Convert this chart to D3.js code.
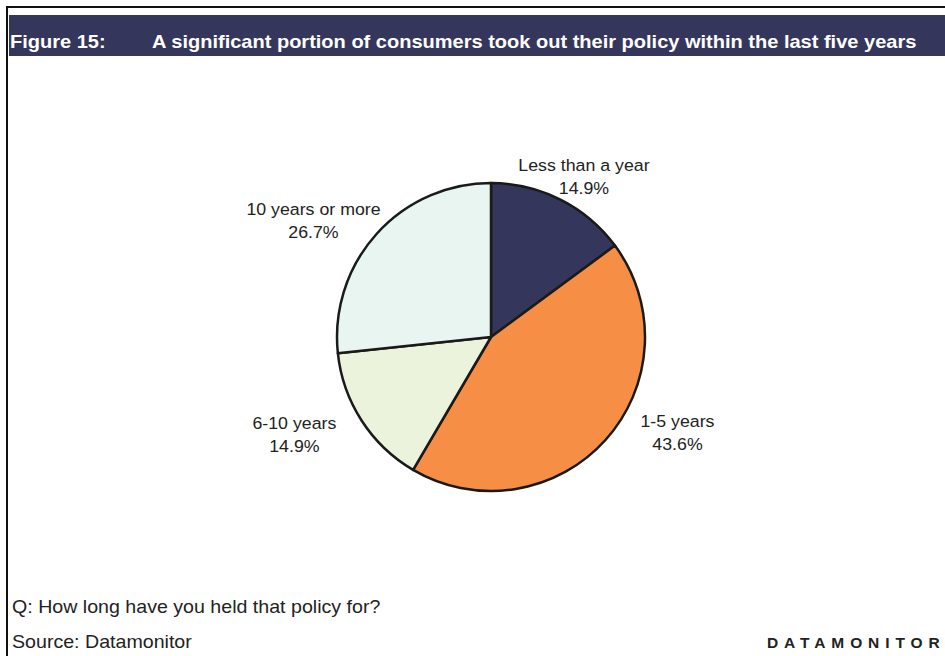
<!DOCTYPE html>
<html>
<head>
<meta charset="utf-8">
<script src="https://cdn.jsdelivr.net/npm/d3@7"></script>
<style>
  html, body { margin: 0; padding: 0; background: #fff; }
  svg { display: block; }
  text { font-family: "Liberation Sans", Arial, Helvetica, sans-serif; }
</style>
</head>
<body>
<svg id="chart" width="945" height="656"></svg>
<script>
// Survey answers: how long the respondent has held the policy
const categories = ["Less than a year", "1-5 years", "6-10 years", "10 years or more"];
const shares = [14.9, 43.6, 14.9, 26.7];
const sliceColors = ["#35365b", "#f68e45", "#ebf3dd", "#e8f5f1"];
// small label shifts away from the plain label arc, per slice
const labelNudge = [[9, 5], [48, -30], [-40, -4], [-39, 8]];

const figureNo = "Figure 15:";
const title = "A significant portion of consumers took out their policy within the last five years";
const question = "Q: How long have you held that policy for?";
const source = "Source: Datamonitor";
const brand = "DATAMONITOR";

const W = 945, H = 656;
const svg = d3.select("#chart");

// text drawn with a slightly wide face
function wideText(parent, x, y, sx, str) {
  return parent.append("text")
    .attr("transform", `translate(${x},${y}) scale(${sx},1)`)
    .text(str);
}

// frame: top and left rules
svg.append("line").attr("x1", 6).attr("x2", W).attr("y1", 7).attr("y2", 7)
  .attr("stroke", "#111").attr("stroke-width", 2);
svg.append("line").attr("x1", 7).attr("x2", 7).attr("y1", 6).attr("y2", H)
  .attr("stroke", "#111").attr("stroke-width", 2);

// title band
svg.append("rect").attr("x", 9).attr("y", 15).attr("width", W - 9).attr("height", 41)
  .attr("fill", "#35365b");
wideText(svg, 10, 48, 1.1, figureNo)
  .attr("fill", "#fff").attr("font-weight", "bold").attr("font-size", 18.2);
wideText(svg, 152, 48, 1.1, title)
  .attr("fill", "#fff").attr("font-weight", "bold").attr("font-size", 18.2);

// pie
const cx = 491, cy = 337, R = 154;
const pie = d3.pie().sort(null).value(d => d)(shares);
const arc = d3.arc().innerRadius(0).outerRadius(R);
const labelArc = d3.arc().innerRadius(R * 1.21).outerRadius(R * 1.21);

const g = svg.append("g").attr("transform", `translate(${cx},${cy})`);
g.selectAll("path.slice").data(pie).join("path")
  .attr("class", "slice")
  .attr("d", arc)
  .attr("fill", (d, i) => sliceColors[i])
  .attr("stroke", "#1a1a1a")
  .attr("stroke-width", 2.5)
  .attr("stroke-linejoin", "round");

const labels = g.selectAll("text.lbl").data(pie).join("text")
  .attr("class", "lbl")
  .attr("text-anchor", "middle")
  .attr("font-size", 17)
  .attr("fill", "#222")
  .attr("transform", (d, i) => {
    const [x, y] = labelArc.centroid(d);
    return `translate(${x + labelNudge[i][0]},${y + labelNudge[i][1]}) scale(1.045,1)`;
  });
labels.append("tspan").attr("x", 0).attr("y", -5).text((d, i) => categories[i]);
labels.append("tspan").attr("x", 0).attr("y", 18).text(d => d3.format(".1f")(d.data) + "%");

// footer
wideText(svg, 12, 613, 1.09, question).attr("font-size", 18).attr("fill", "#222");
wideText(svg, 12, 648, 1.09, source).attr("font-size", 18).attr("fill", "#222");
svg.append("text").attr("x", 767).attr("y", 648).attr("font-size", 15.5)
  .attr("font-weight", "bold").attr("letter-spacing", 5.9).attr("fill", "#222")
  .text(brand);
</script>
</body>
</html>
